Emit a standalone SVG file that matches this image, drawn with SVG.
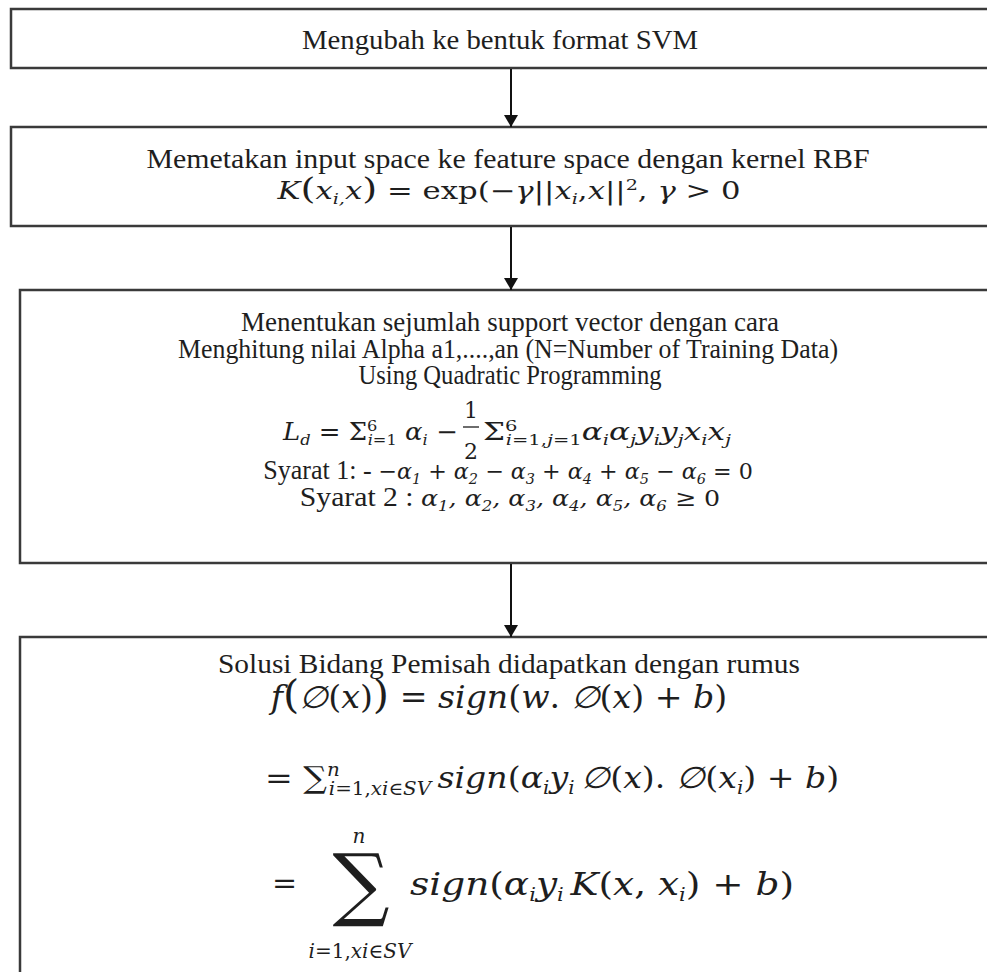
<svg xmlns="http://www.w3.org/2000/svg" width="987" height="972" viewBox="0 0 987 972">
  <defs>
    <style>
      .box { fill: #ffffff; stroke: #3a3a3a; stroke-width: 2.5; }
      .link { stroke: #111111; stroke-width: 2; fill: none; marker-end: url(#head); }
      .t { font-family: "Liberation Serif", "Times New Roman", serif; font-size: 27px; fill: #1e1e1e; text-anchor: middle; }
      .m { font-family: "DejaVu Serif", serif; font-style: italic; fill: #1e1e1e; }
      .u { font-family: "DejaVu Serif", serif; font-style: normal; }
      .s { font-size: 15px; }
      .s2 { font-size: 18px; }
    </style>
    <marker id="head" viewBox="0 0 12 14" refX="12" refY="7" markerWidth="12" markerHeight="14" markerUnits="userSpaceOnUse" orient="auto">
      <path d="M0,0 L12,7 L0,14 Z" fill="#111111"/>
    </marker>
  </defs>

  <rect width="987" height="972" fill="#ffffff"/>

  <!-- step 1 -->
  <g id="step-format">
    <rect class="box" x="11" y="9" width="1000" height="59"/>
    <text class="t" x="500" y="49" textLength="396" lengthAdjust="spacingAndGlyphs">Mengubah ke bentuk format SVM</text>
  </g>

  <!-- step 2 -->
  <g id="step-kernel">
    <rect class="box" x="11" y="127" width="1000" height="99"/>
    <text class="t" x="508" y="168" textLength="723" lengthAdjust="spacingAndGlyphs">Memetakan input space ke feature space dengan kernel RBF</text>
    <text class="m" transform="translate(509,199) scale(1.28,1)" font-size="24" text-anchor="middle">K<tspan class="u" font-size="30">(</tspan>x<tspan class="s" dy="5">i,</tspan><tspan dy="-5">x</tspan><tspan class="u" font-size="30">)</tspan><tspan class="u"> = exp(−</tspan>γ<tspan class="u">||</tspan>x<tspan class="s" dy="5">i</tspan><tspan class="u" dy="-5">,</tspan>x<tspan class="u">||</tspan><tspan class="u s" dy="-9">2</tspan><tspan class="u" dy="9">, </tspan>γ<tspan class="u"> &gt; 0</tspan></text>
  </g>

  <!-- step 3 -->
  <g id="step-support-vector">
    <rect class="box" x="20" y="290" width="1000" height="273"/>
    <text class="t" x="510" y="331" textLength="538" lengthAdjust="spacingAndGlyphs">Menentukan sejumlah support vector dengan cara</text>
    <text class="t" x="508" y="358" textLength="660" lengthAdjust="spacingAndGlyphs">Menghitung nilai Alpha a1,....,an (N=Number of Training Data)</text>
    <text class="t" x="510" y="384" textLength="303" lengthAdjust="spacingAndGlyphs">Using Quadratic Programming</text>
    <!-- dual objective: left part, fraction, right part -->
    <text class="m" transform="translate(283,440) scale(1.08,1)" font-size="24">L<tspan class="s" dy="5">d</tspan><tspan class="u" dy="-5"> = Σ</tspan><tspan class="u s" dy="-9">6</tspan><tspan class="s" dx="-9" dy="14">i</tspan><tspan class="u s">=1</tspan><tspan dy="-5"> α</tspan><tspan class="s" dy="5">i</tspan><tspan class="u" dy="-5"> −</tspan></text>
    <text class="u" x="471" y="418" font-size="22" text-anchor="middle" fill="#1e1e1e">1</text>
    <line x1="463" y1="427" x2="479" y2="427" stroke="#1e1e1e" stroke-width="1.3"/>
    <text class="u" x="471" y="459" font-size="22" text-anchor="middle" fill="#1e1e1e">2</text>
    <text class="m" transform="translate(483,440) scale(1.3,1)" font-size="24"><tspan class="u">Σ</tspan><tspan class="u s" dy="-9">6</tspan><tspan class="s" dx="-9" dy="14">i</tspan><tspan class="u s">=1,</tspan><tspan class="s">j</tspan><tspan class="u s">=1</tspan><tspan dy="-5">α</tspan><tspan class="s" dy="5">i</tspan><tspan dy="-5">α</tspan><tspan class="s" dy="5">j</tspan><tspan dy="-5">y</tspan><tspan class="s" dy="5">i</tspan><tspan dy="-5">y</tspan><tspan class="s" dy="5">j</tspan><tspan dy="-5">x</tspan><tspan class="s" dy="5">i</tspan><tspan dy="-5">x</tspan><tspan class="s" dy="5">j</tspan></text>
    <text class="t" transform="translate(508,479) scale(0.966,1)">Syarat 1: - <tspan class="m" font-size="23">−α<tspan class="s" dy="5">1</tspan><tspan class="u" dy="-5"> + </tspan>α<tspan class="s" dy="5">2</tspan><tspan class="u" dy="-5"> − </tspan>α<tspan class="s" dy="5">3</tspan><tspan class="u" dy="-5"> + </tspan>α<tspan class="s" dy="5">4</tspan><tspan class="u" dy="-5"> + </tspan>α<tspan class="s" dy="5">5</tspan><tspan class="u" dy="-5"> − </tspan>α<tspan class="s" dy="5">6</tspan><tspan class="u" dy="-5"> = 0</tspan></tspan></text>
    <text class="t" transform="translate(510,506) scale(1.1,1)">Syarat 2 : <tspan class="m" font-size="23">α<tspan class="s" dy="5">1</tspan><tspan dy="-5">, </tspan>α<tspan class="s" dy="5">2</tspan><tspan dy="-5">, </tspan>α<tspan class="s" dy="5">3</tspan><tspan dy="-5">, </tspan>α<tspan class="s" dy="5">4</tspan><tspan dy="-5">, </tspan>α<tspan class="s" dy="5">5</tspan><tspan dy="-5">, </tspan>α<tspan class="s" dy="5">6</tspan><tspan class="u" dy="-5"> ≥ 0</tspan></tspan></text>
  </g>

  <!-- step 4 -->
  <g id="step-hyperplane">
    <rect class="box" x="20" y="637" width="1000" height="360"/>
    <text class="t" x="509" y="673" textLength="582" lengthAdjust="spacingAndGlyphs">Solusi Bidang Pemisah didapatkan dengan rumus</text>
    <text class="m" transform="translate(499,708) scale(1.07,1)" font-size="31" text-anchor="middle">f<tspan class="u" font-size="39">(</tspan>∅<tspan class="u">(</tspan>x<tspan class="u">)</tspan><tspan class="u" font-size="39">)</tspan><tspan class="u"> = </tspan>sign<tspan class="u">(</tspan>w<tspan class="u">. </tspan>∅<tspan class="u">(</tspan>x<tspan class="u">) + </tspan>b<tspan class="u">)</tspan></text>
    <text class="m" transform="translate(265,788) scale(1.106,1)" font-size="30"><tspan class="u">= ∑</tspan><tspan class="s2" dy="-12">n</tspan><tspan class="s2" dx="-10" dy="19">i</tspan><tspan class="u s2">=1,</tspan><tspan class="s2">xi</tspan><tspan class="u s2">∈</tspan><tspan class="s2">SV </tspan><tspan dy="-7">sign</tspan><tspan class="u">(</tspan>α<tspan class="s2" dy="6">i</tspan><tspan dy="-6">y</tspan><tspan class="s2" dy="6">i </tspan><tspan dy="-6">∅</tspan><tspan class="u">(</tspan>x<tspan class="u">). </tspan>∅<tspan class="u">(</tspan>x<tspan class="s2" dy="6">i</tspan><tspan class="u" dy="-6">) + </tspan>b<tspan class="u">)</tspan></text>
    <!-- summation with limits -->
    <text class="m" x="359" y="843" font-size="20" text-anchor="middle">n</text>
    <text class="u" x="361" y="911" font-size="80" text-anchor="middle" fill="#1e1e1e">∑</text>
    <text class="m" x="360" y="958" font-size="20" text-anchor="middle">i<tspan class="u">=1,</tspan>xi<tspan class="u">∈</tspan>SV</text>
    <text class="u" x="272" y="893" font-size="30" fill="#1e1e1e">=</text>
    <text class="m" transform="translate(410,895) scale(1.17,1)" font-size="32">sign<tspan class="u">(</tspan>α<tspan class="s2" dy="6">i</tspan><tspan dy="-6">y</tspan><tspan class="s2" dy="6">i </tspan><tspan dy="-6">K</tspan><tspan class="u">(</tspan>x<tspan class="u">, </tspan>x<tspan class="s2" dy="6">i</tspan><tspan class="u" dy="-6">) + </tspan>b<tspan class="u">)</tspan></text>
  </g>

  <!-- connectors -->
  <g id="connectors">
    <line class="link" x1="511" y1="69" x2="511" y2="127"/>
    <line class="link" x1="511" y1="227" x2="511" y2="290"/>
    <line class="link" x1="511" y1="564" x2="511" y2="637"/>
  </g>
</svg>
